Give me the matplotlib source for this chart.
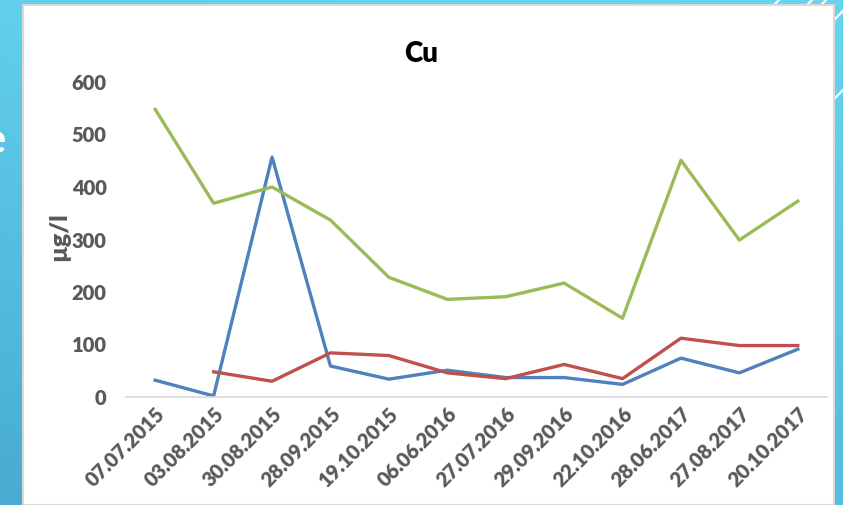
import numpy as np
import matplotlib
matplotlib.use("Agg")
import matplotlib.pyplot as plt
from matplotlib.patches import Rectangle
from matplotlib.lines import Line2D

# Sampling dates and copper concentrations (µg/l) for three sites
dates = ["07.07.2015", "03.08.2015", "30.08.2015", "28.09.2015", "19.10.2015",
         "06.06.2016", "27.07.2016", "29.09.2016", "22.10.2016", "28.06.2017",
         "27.08.2017", "20.10.2017"]
site_blue = [32, 2, 457, 59, 34, 51, 37, 37, 24, 74, 46, 91]
site_red = [np.nan, 48, 30, 84, 79, 46, 35, 62, 35, 112, 98, 98]
site_green = [548, 369, 400, 337, 228, 186, 191, 217, 150, 451, 299, 373]
y_ticks = [0, 100, 200, 300, 400, 500, 600]

W, H = 843, 505
fig = plt.figure(figsize=(W / 100, H / 100), dpi=100)

def px(x, y):
    """Pixel position (origin top-left) to figure fraction."""
    return x / W, 1 - y / H

# Slide background: blue gradient
bg = fig.add_axes([0, 0, 1, 1], zorder=-10)
bg.set_axis_off()
tl = np.array([98, 208, 236]) / 255
bl = np.array([72, 171, 210]) / 255
tr = np.array([102, 213, 239]) / 255
br = np.array([84, 188, 222]) / 255
ys = np.linspace(0, 1, 120)[:, None, None]
xs = np.linspace(0, 1, 200)[None, :, None]
grad = (1 - ys) * ((1 - xs) * tl + xs * tr) + ys * ((1 - xs) * bl + xs * br)
bg.imshow(grad, aspect="auto", extent=[0, 1, 0, 1], origin="upper")
bg.set_xlim(0, 1)
bg.set_ylim(0, 1)

# Decorative white diagonal strokes at the top right
for (x0, y0) in [(776, 3), (809, 3), (823, 3), (838, 16), (838, 95)]:
    xa, ya = px(x0 - 40, y0 + 40)
    xb, yb = px(x0 + 40, y0 - 40)
    bg.add_line(Line2D([xa, xb], [ya, yb], color="white", lw=1.6,
                       transform=bg.transAxes))

# Partial slide title letter at the left edge
fx, fy = px(6, 153)
fig.text(fx, fy, "e", color="white", fontsize=30, fontweight="bold",
         family="Lato", ha="right", va="baseline")

# White chart panel with a thin grey border
x0, y0 = px(23, 505)
x1, y1 = px(834, 5)
panel = Rectangle((x0, y0), x1 - x0, y1 - y0, transform=fig.transFigure,
                  facecolor="white", edgecolor="#D9D9D9", lw=1.5, zorder=-5)
fig.patches.append(panel)

# Plot area
ax_l, ax_t = px(126, 82)
ax_r, ax_b = px(827, 397)
ax = fig.add_axes([ax_l, ax_b, ax_r - ax_l, ax_t - ax_b])
ax.patch.set_alpha(0)

x = np.arange(len(dates))
ax.plot(x, site_blue, color="#4F81BD", lw=2.4, solid_joinstyle="round")
ax.plot(x, site_red, color="#C0504D", lw=2.4, solid_joinstyle="round")
ax.plot(x, site_green, color="#9BBB59", lw=2.4, solid_joinstyle="round")

ax.set_xlim(-0.5, len(dates) - 0.5)
ax.set_ylim(0, 600)
ax.set_yticks(y_ticks)
ax.set_yticklabels([str(v) for v in y_ticks])
ax.set_xticks(x)
ax.set_xticklabels(dates, rotation=45, ha="right", va="top",
                   rotation_mode="anchor")

for s in ["top", "right", "left"]:
    ax.spines[s].set_visible(False)
ax.spines["bottom"].set_color("#D9D9D9")
ax.spines["bottom"].set_linewidth(1.2)

ax.tick_params(axis="y", length=0, pad=14, labelsize=14.5, labelcolor="#595959")
ax.tick_params(axis="x", length=0, pad=5, labelsize=14.5, labelcolor="#595959")
for lab in ax.get_xticklabels() + ax.get_yticklabels():
    lab.set_fontfamily("Lato")
    lab.set_fontweight("heavy")

tx, ty = px(421, 54)
fig.text(tx, ty, "Cu", fontsize=20, fontweight="heavy", family="Lato",
         color="black", ha="center", va="center")

lx, ly = px(59, 237)
fig.text(lx, ly, "µg/l", fontsize=18, fontweight="heavy", family="Lato",
         color="#595959", ha="center", va="center", rotation=90)

fig.savefig("out.png", dpi=100)
